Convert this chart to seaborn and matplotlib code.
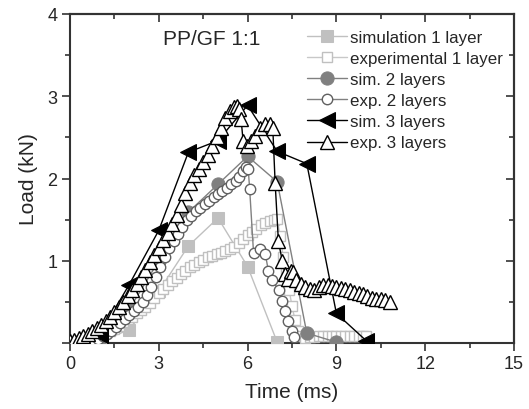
import matplotlib
matplotlib.use("Agg")
import matplotlib.pyplot as plt
import seaborn as sns
import pandas as pd
from matplotlib.ticker import MultipleLocator, FixedLocator

# ---- data ----
sim1_t = [1, 2, 3, 4, 5, 6, 7]
sim1_L = [0.02, 0.16, 0.63, 1.18, 1.52, 0.93, 0.01]

exp1_t = [0.3, 0.5, 0.7, 0.9, 1.05, 1.2, 1.35, 1.5, 1.65, 1.8, 1.95, 2.1, 2.25, 2.4, 2.55,
          2.7, 2.85, 3.0, 3.15, 3.3, 3.45, 3.6, 3.75, 3.9, 4.05, 4.2, 4.35, 4.5, 4.65, 4.8,
          4.95, 5.1, 5.25, 5.4, 5.55, 5.7, 5.85, 6.0, 6.15, 6.3, 6.45, 6.6, 6.75, 6.9, 7.0,
          7.1, 7.2, 7.3, 7.4, 7.5, 7.6, 7.7, 7.8, 7.95, 8.1, 8.25, 8.4, 8.55, 8.7, 8.85,
          9.0, 9.15, 9.3, 9.45, 9.6, 9.75, 9.9, 10.0]
exp1_L = [0.03, 0.04, 0.06, 0.08, 0.10, 0.12, 0.14, 0.17, 0.21, 0.25, 0.29, 0.32, 0.36,
          0.40, 0.44, 0.49, 0.55, 0.61, 0.66, 0.71, 0.75, 0.79, 0.84, 0.88, 0.92, 0.95,
          0.98, 1.01, 1.04, 1.06, 1.08, 1.10, 1.12, 1.14, 1.17, 1.21, 1.26, 1.31, 1.35,
          1.39, 1.43, 1.46, 1.48, 1.50, 1.51, 1.30, 1.05, 0.85, 0.65, 0.45, 0.28, 0.15,
          0.08, 0.06, 0.07, 0.07, 0.08, 0.08, 0.08, 0.09, 0.09, 0.09, 0.09, 0.09, 0.09,
          0.08, 0.08, 0.08]

sim2_t = [1, 2, 3, 4, 5, 6, 7, 8, 9]
sim2_L = [0.05, 0.41, 1.00, 1.59, 1.93, 2.27, 1.96, 0.12, 0.01]

exp2_t = [0.8, 0.95, 1.1, 1.25, 1.4, 1.55, 1.7, 1.85, 2.0, 2.15, 2.3, 2.45, 2.6, 2.75, 2.9,
          3.05, 3.2, 3.35, 3.5, 3.65, 3.8, 3.95, 4.1, 4.25, 4.4, 4.55, 4.7, 4.85, 5.0, 5.15,
          5.3, 5.45, 5.6, 5.72, 5.84, 5.94, 6.02, 6.07, 6.2, 6.43, 6.6, 6.7, 6.84, 7.05,
          7.17, 7.27, 7.38, 7.5, 7.56]
exp2_L = [0.02, 0.05, 0.08, 0.11, 0.15, 0.19, 0.24, 0.29, 0.34, 0.39, 0.44, 0.50, 0.58,
          0.68, 0.80, 0.93, 1.05, 1.15, 1.24, 1.33, 1.41, 1.49, 1.55, 1.60, 1.64, 1.69,
          1.73, 1.77, 1.81, 1.85, 1.89, 1.93, 1.97, 2.02, 2.09, 2.14, 2.12, 1.87, 1.10,
          1.14, 1.08, 0.88, 0.76, 0.64, 0.51, 0.39, 0.27, 0.15, 0.07]

sim3_t = [0, 1, 2, 3, 4, 5, 6, 7, 8, 9, 10]
sim3_L = [0.0, 0.10, 0.71, 1.37, 2.32, 2.46, 2.89, 2.33, 2.18, 0.36, 0.03]

exp3_t = [0.0, 0.15, 0.3, 0.45, 0.6, 0.75, 0.9, 1.05, 1.2, 1.35, 1.5, 1.65, 1.8, 1.95, 2.1,
          2.25, 2.4, 2.55, 2.7, 2.85, 3.0, 3.15, 3.3, 3.45, 3.6, 3.75, 3.9, 4.05, 4.2, 4.35,
          4.5, 4.65, 4.8, 4.95, 5.1, 5.25, 5.4, 5.55, 5.65, 5.72, 5.78, 5.85, 5.98, 6.1,
          6.26, 6.43, 6.6, 6.75, 6.85, 6.93, 7.04, 7.17, 7.27, 7.35, 7.45, 7.54, 7.65, 7.8,
          7.95, 8.1, 8.25, 8.4, 8.55, 8.7, 8.85, 9.0, 9.15, 9.3, 9.45, 9.6, 9.75, 9.9,
          10.05, 10.2, 10.35, 10.5, 10.65, 10.8]
exp3_L = [0.03, 0.04, 0.06, 0.08, 0.11, 0.14, 0.18, 0.22, 0.27, 0.32, 0.38, 0.44, 0.50,
          0.57, 0.64, 0.72, 0.80, 0.89, 0.98, 1.07, 1.16, 1.25, 1.34, 1.45, 1.56, 1.68,
          1.82, 1.95, 2.04, 2.12, 2.20, 2.29, 2.39, 2.50, 2.62, 2.73, 2.82, 2.87, 2.88,
          2.84, 2.72, 2.45, 2.40, 2.46, 2.52, 2.62, 2.66, 2.66, 2.62, 1.95, 1.24, 1.00,
          0.84, 0.78, 0.88, 0.86, 0.76, 0.72, 0.68, 0.66, 0.65, 0.68, 0.70, 0.70, 0.69,
          0.68, 0.67, 0.66, 0.64, 0.62, 0.61, 0.59, 0.57, 0.55, 0.54, 0.53, 0.52, 0.50]

labels = ["simulation 1 layer", "experimental 1 layer", "sim. 2 layers",
          "exp. 2 layers", "sim. 3 layers", "exp. 3 layers"]
x_ticks = [0, 3, 6, 9, 12, 15]
y_ticks = [1, 2, 3, 4]

# ---- style ----
sns.set_style("ticks")
plt.rcParams["font.family"] = ["Liberation Sans", "DejaVu Sans"]

fig = plt.figure(figsize=(5.29, 4.10), dpi=100)
ax = fig.add_axes([70 / 529, 1 - 344 / 410, 444 / 529, 329 / 410])

series = [
    (sim1_t, sim1_L, dict(color="#c0c0c0", marker="s", markersize=8.5,
                          markerfacecolor="#c0c0c0", markeredgecolor="#c0c0c0", linewidth=1.0)),
    (exp1_t, exp1_L, dict(color="#c8c8c8", marker="s", markersize=7,
                          markerfacecolor="white", markeredgecolor="#c0c0c0",
                          markeredgewidth=1.0, linewidth=1.0)),
    (sim2_t, sim2_L, dict(color="#808080", marker="o", markersize=9.5,
                          markerfacecolor="#808080", markeredgecolor="#808080", linewidth=1.0)),
    (exp2_t, exp2_L, dict(color="#808080", marker="o", markersize=7.5,
                          markerfacecolor="white", markeredgecolor="#606060",
                          markeredgewidth=1.0, linewidth=1.0)),
    (sim3_t, sim3_L, dict(color="black", marker="<", markersize=12,
                          markerfacecolor="black", markeredgecolor="black", linewidth=1.0)),
    (exp3_t, exp3_L, dict(color="black", marker="^", markersize=9.5,
                          markerfacecolor="white", markeredgecolor="black",
                          markeredgewidth=1.0, linewidth=1.0)),
]

for i, ((t, L, kw), lab) in enumerate(zip(series, labels)):
    df = pd.DataFrame({"t": t, "L": L})
    sns.lineplot(data=df, x="t", y="L", ax=ax, sort=False, estimator=None,
                 label=lab, zorder=3 + i, **kw)

ax.set_xlim(0, 15)
ax.set_ylim(0, 4)
ax.xaxis.set_major_locator(FixedLocator(x_ticks))
ax.yaxis.set_major_locator(FixedLocator(y_ticks + [0]))
ax.set_yticklabels([str(v) for v in y_ticks] + [""])
ax.xaxis.set_minor_locator(MultipleLocator(1.5))
ax.yaxis.set_minor_locator(MultipleLocator(0.5))
ax.tick_params(which="both", top=False, right=False, direction="out", width=1.2,
               color="#333333")
ax.tick_params(which="major", length=6, labelsize=13, pad=3)
ax.tick_params(which="minor", length=3.5)
for sp in ax.spines.values():
    sp.set_linewidth(1.5)
    sp.set_visible(True)
    sp.set_color("#333333")

# mirrored ticks on top/right pointing inward
secx = ax.secondary_xaxis("top")
secx.set_xticks(x_ticks)
secx.xaxis.set_minor_locator(MultipleLocator(1.5))
secx.tick_params(which="both", direction="in", labeltop=False, width=1.2, color="#333333")
secx.tick_params(which="major", length=6)
secx.tick_params(which="minor", length=3.5)
secx.spines["top"].set_linewidth(1.5)
secy = ax.secondary_yaxis("right")
secy.set_yticks([0] + y_ticks)
secy.yaxis.set_minor_locator(MultipleLocator(0.5))
secy.tick_params(which="both", direction="in", labelright=False, width=1.2, color="#333333")
secy.tick_params(which="major", length=6)
secy.tick_params(which="minor", length=3.5)
secy.spines["right"].set_linewidth(1.5)

ax.set_xlabel("Time (ms)", fontsize=15, labelpad=7)
ax.set_ylabel("Load (kN)", fontsize=15, labelpad=7)

ax.text(4.8, 3.70, "PP/GF 1:1", fontsize=15, ha="center", va="center")

leg = ax.legend(loc="upper left", bbox_to_anchor=((307 - 70) / 444, (344 - 31) / 329),
                frameon=False, fontsize=12.2, handlelength=2.35, handletextpad=0.17,
                labelspacing=0.36, borderpad=0.0, borderaxespad=0.0)

fig.savefig("out.png", dpi=100)
